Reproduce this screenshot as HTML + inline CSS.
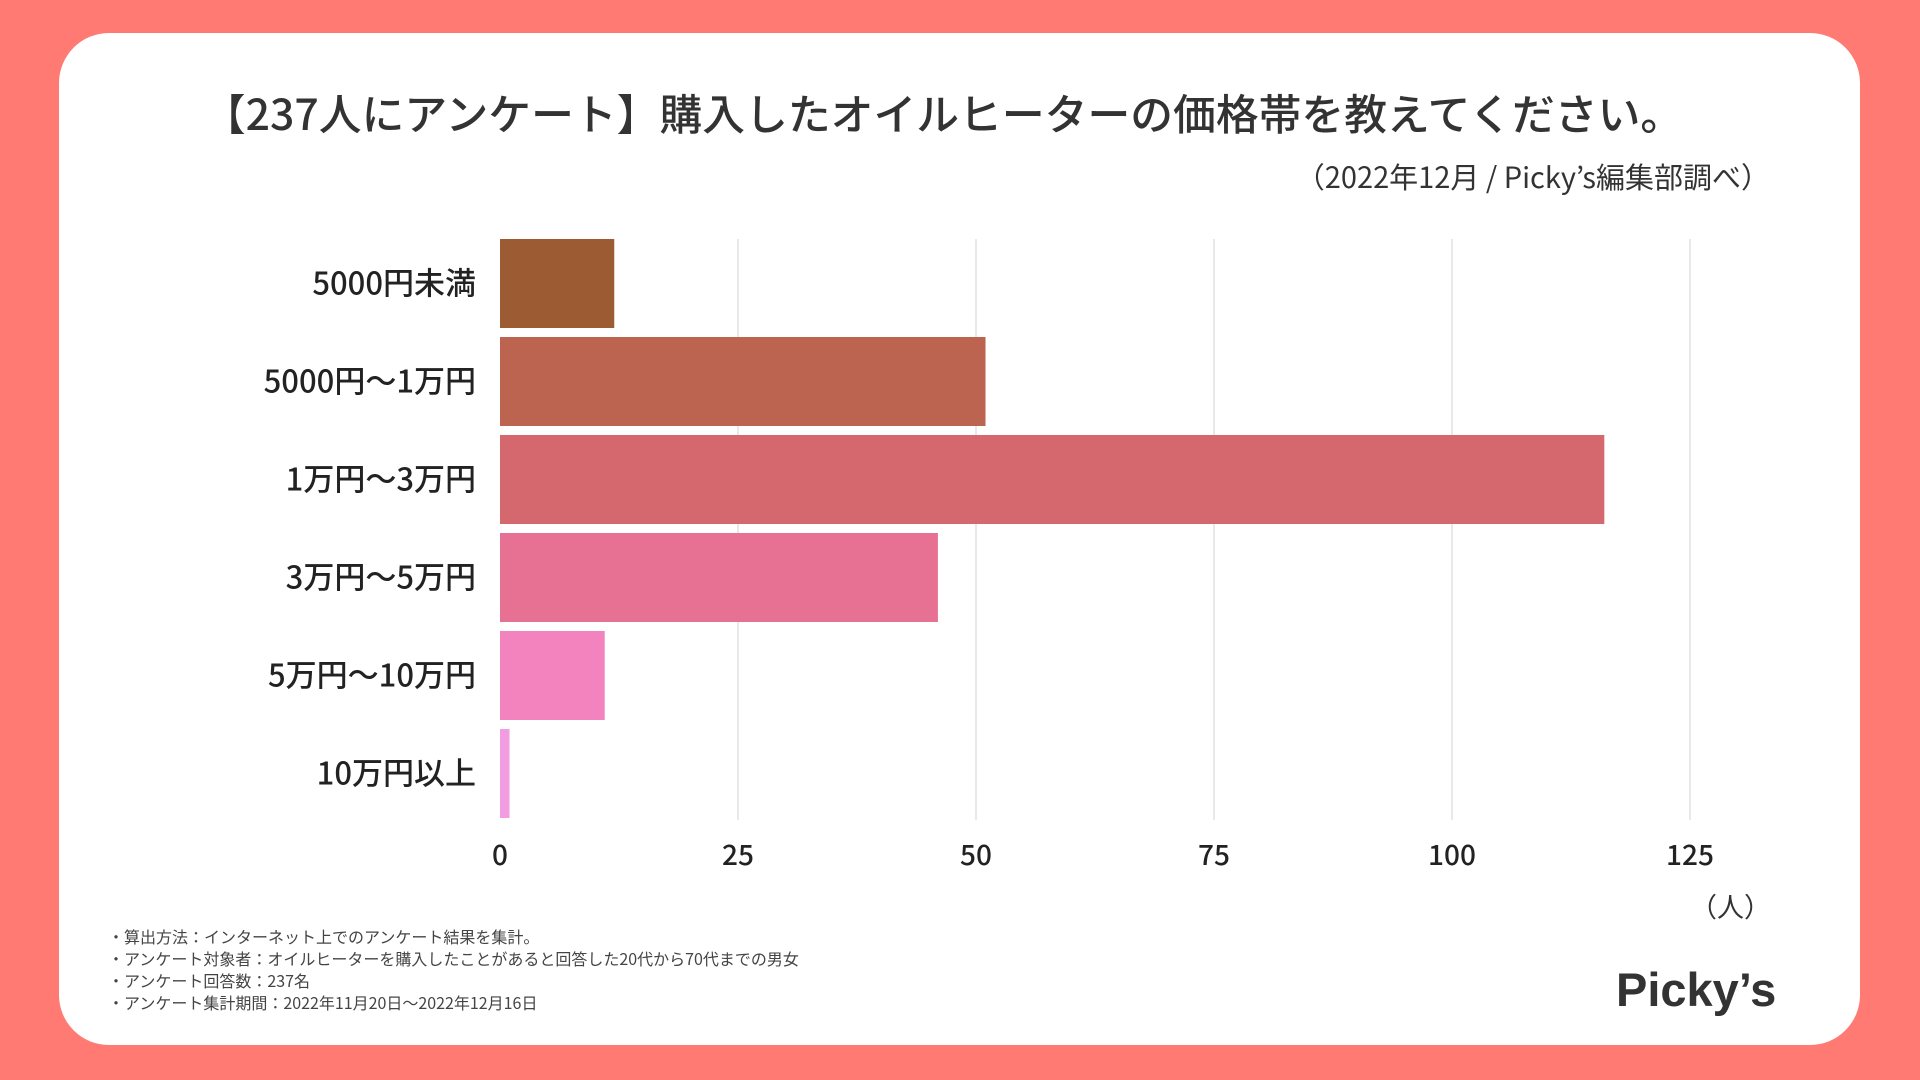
<!DOCTYPE html>
<html><head><meta charset="utf-8"><style>
body{margin:0;width:1920px;height:1080px;background:#fe7a72;position:relative;overflow:hidden;font-family:"Noto Sans CJK JP","Liberation Sans",sans-serif;color:#222}
#card{position:absolute;left:59px;top:33px;width:1801px;height:1012px;background:#fff;border-radius:50px}
.t{position:absolute;white-space:nowrap}
</style></head><body>
<div id="card"></div>
<div class="t" style="left:0;width:1886px;text-align:center;top:82px;font-size:42.8px;font-weight:500;color:#333;line-height:60px">【237人にアンケート】購入したオイルヒーターの価格帯を教えてください。</div>
<div class="t" style="right:150px;top:156px;font-size:29px;color:#333;line-height:40px">（2022年12月 / Picky’s編集部調べ）</div>
<svg id="chart" width="1920" height="1080" style="position:absolute;left:0;top:0;font-family:'Noto Sans CJK JP','Liberation Sans',sans-serif"></svg>
<div class="t" style="left:1690px;top:886px;font-size:27px;color:#333;line-height:40px">（人）</div>
<div style="position:absolute;left:108px;top:925px;font-size:16px;line-height:22px;color:#444">
<div>・算出方法：インターネット上でのアンケート結果を集計。</div>
<div>・アンケート対象者：オイルヒーターを購入したことがあると回答した20代から70代までの男女</div>
<div>・アンケート回答数：237名</div>
<div>・アンケート集計期間：2022年11月20日〜2022年12月16日</div>
</div>
<div class="t" style="left:1616px;top:962px;font-size:47px;font-weight:bold;color:#333;font-family:'Liberation Sans',sans-serif">Picky’s</div>
<script>
const categories=["5000円未満","5000円〜1万円","1万円〜3万円","3万円〜5万円","5万円〜10万円","10万円以上"];
const values=[12,51,116,46,11,1];
const colors=["#9c5b33","#bc6450","#d5686e","#e67192","#f383be","#f29ce2"];
const ticks=[0,25,50,75,100,125];
const NS="http://www.w3.org/2000/svg";
const svg=document.getElementById("chart");
const x0=500,pxPerUnit=9.52,yTop=239,step=98,barH=89;
const xs=v=>x0+v*pxPerUnit;
const yb=i=>yTop+i*step;
function mk(t,a){const e=document.createElementNS(NS,t);for(const k in a)e.setAttribute(k,a[k]);svg.appendChild(e);return e;}
ticks.forEach(t=>{
  if(t>0){const l=mk("line",{x1:xs(t),x2:xs(t),y1:239,y2:820,stroke:"#e2e2e2","stroke-width":1.5});
  
  }
  const tx=mk("text",{x:xs(t),y:865,"text-anchor":"middle","font-size":28,fill:"#222","font-weight":500});
  tx.textContent=t;
  
  
});
categories.forEach((c,i)=>{
  const r=mk("rect",{x:x0,y:yb(i),width:xs(values[i])-x0,height:barH,fill:colors[i]});
  
  
  const tx=mk("text",{x:476,y:yb(i)+barH/2+11,"text-anchor":"end","font-size":31,fill:"#222","font-weight":500});
  tx.textContent=c;
  
  
});
</script>
</body></html>
